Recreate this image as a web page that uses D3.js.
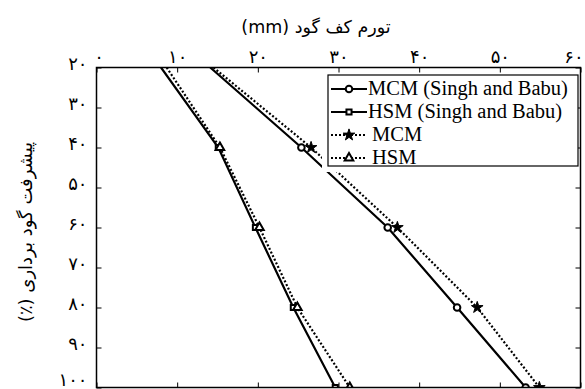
<!DOCTYPE html>
<html>
<head>
<meta charset="utf-8">
<script src="https://cdn.jsdelivr.net/npm/d3@7"></script>
<style>
  body { margin: 0; background: #fff; }
  svg { display: block; }
</style>
</head>
<body>
<svg id="chart" width="585" height="389"></svg>
<script>
// excavation depth (%) on the vertical axis
var depth = [20, 40, 60, 80, 100];

// floor heave (mm)
var mcm_singh = [14.1, 25.4, 36.1, 44.7, 53.2];
var hsm_singh = [8.0, 15.1, 19.7, 24.4, 29.6];
var mcm_this = [14.5, 26.6, 37.3, 47.2, 54.9];
var hsm_this = [8.7, 15.3, 20.2, 24.9, 31.4];

var x_ticks = [0, 10, 20, 30, 40, 50, 60];
var y_ticks = [20, 30, 40, 50, 60, 70, 80, 90, 100];

var legend_labels = ['MCM', 'HSM', 'MCM', 'HSM'];
var legend_notes = ['(Singh and Babu)', '(Singh and Babu)', '', ''];

var title_text = 'تورم کف گود (mm)';
var y_title_text = 'پیشرفت گود برداری (٪)';

var heave_chart = (function () {
  var fa_digits = '۰۱۲۳۴۵۶۷۸۹';
  function toPersian(d) {
    return String(d).replace(/\d/g, function(c) { return fa_digits[+c]; });
  }

  var svg = d3.select('#chart');
  var plot_left = 96.5, plot_right = 580.5, plot_top = 67.5, plot_bottom = 387.5;

  var x = d3.scaleLinear().domain([0, 60]).range([plot_left, plot_right]);
  var y = d3.scaleLinear().domain([20, 100]).range([plot_top, plot_bottom]);

  var series = [
    { values: mcm_singh, symbol: 'circle', dash: null },
    { values: hsm_singh, symbol: 'square', dash: null },
    { values: mcm_this, symbol: 'star', dash: '2,2' },
    { values: hsm_this, symbol: 'triangle', dash: '2,2' }
  ];

  svg.append('defs').append('clipPath').attr('id', 'plotclip')
    .append('rect')
    .attr('x', plot_left).attr('y', plot_top)
    .attr('width', plot_right - plot_left).attr('height', plot_bottom - plot_top);

  // axes, ticks pointing inward
  function styleAxis(g) {
    g.select('.domain').remove();
    g.selectAll('line').attr('stroke', '#000').attr('stroke-width', 1);
    g.selectAll('text').attr('fill', '#000')
      .style('font-family', '"DejaVu Sans", sans-serif')
      .style('font-size', '18px');
  }

  svg.append('g').attr('transform', 'translate(0,' + plot_top + ')')
    .call(d3.axisTop(x).tickValues(x_ticks).tickSize(-5).tickPadding(5).tickFormat(toPersian))
    .call(styleAxis)
    .selectAll('text')
    .attr('x', function(d) { return d === 60 ? -7 : (d === 0 ? 2 : 0); });

  svg.append('g').attr('transform', 'translate(0,' + plot_bottom + ')')
    .call(d3.axisBottom(x).tickValues(x_ticks).tickSize(-5).tickFormat(''))
    .call(styleAxis);

  svg.append('g').attr('transform', 'translate(' + plot_left + ',0)')
    .call(d3.axisLeft(y).tickValues(y_ticks).tickSize(-5).tickPadding(9).tickFormat(toPersian))
    .call(styleAxis)
    .selectAll('text').attr('dy', function(d) { return d === 100 ? '-0.12em' : '0.1em'; });

  svg.append('g').attr('transform', 'translate(' + plot_right + ',0)')
    .call(d3.axisRight(y).tickValues(y_ticks).tickSize(-5).tickFormat(''))
    .call(styleAxis);

  // lines
  var line = d3.line()
    .x(function(d) { return x(d.v); })
    .y(function(d) { return y(d.depth); });

  var plot = svg.append('g').attr('clip-path', 'url(#plotclip)');

  function symbolPath(name) {
    if (name === 'star') return d3.symbol().type(d3.symbolStar).size(42)();
    if (name === 'triangle') return d3.symbol().type(d3.symbolTriangle).size(32)();
    if (name === 'square') return d3.symbol().type(d3.symbolSquare).size(26)();
    return d3.symbol().type(d3.symbolCircle).size(34)();
  }

  function drawMarker(g, name, cx, cy) {
    g.append('path')
      .attr('d', symbolPath(name))
      .attr('transform', 'translate(' + cx + ',' + cy + ')')
      .attr('fill', name === 'star' ? '#000' : '#fff')
      .attr('stroke', '#000')
      .attr('stroke-width', name === 'star' ? 1 : 2);
  }

  series.forEach(function(s) {
    var pts = depth.map(function(dv, i) { return { depth: dv, v: s.values[i] }; });
    plot.append('path')
      .datum(pts)
      .attr('d', line)
      .attr('fill', 'none')
      .attr('stroke', '#000')
      .attr('stroke-width', 2.2)
      .attr('stroke-dasharray', s.dash);
    pts.forEach(function(p, i) {
      if (i === 0) return; // no marker at the top edge
      drawMarker(plot, s.symbol, x(p.v), y(p.depth));
    });
  });

  // frame
  svg.append('rect')
    .attr('x', plot_left).attr('y', plot_top)
    .attr('width', plot_right - plot_left).attr('height', plot_bottom - plot_top)
    .attr('fill', 'none').attr('stroke', '#000').attr('stroke-width', 1.5);

  // legend
  var lg = svg.append('g');
  lg.append('rect')
    .attr('x', 322).attr('y', 75).attr('width', 256).attr('height', 97)
    .attr('fill', '#fff');
  lg.append('rect')
    .attr('x', 328).attr('y', 75).attr('width', 250).attr('height', 91)
    .attr('fill', '#fff').attr('stroke', '#000').attr('stroke-width', 1.2);

  series.forEach(function(s, i) {
    var base = 95 + i * 23;
    var my = base - 6;
    lg.append('line')
      .attr('x1', 331).attr('x2', 367).attr('y1', my).attr('y2', my)
      .attr('stroke', '#000').attr('stroke-width', 2.2)
      .attr('stroke-dasharray', s.dash);
    drawMarker(lg, s.symbol, 349, my);
    var t = lg.append('text')
      .attr('x', legend_notes[i] ? 368 : 372).attr('y', base)
      .style('font-family', '"Liberation Serif", "Times New Roman", serif')
      .style('font-size', '20.5px')
      .attr('fill', '#000');
    t.append('tspan').text(legend_labels[i]);
    if (legend_notes[i]) t.append('tspan').text(' ' + legend_notes[i]);
  });

  // titles
  svg.append('text')
    .attr('x', 316).attr('y', 33)
    .attr('text-anchor', 'middle')
    .attr('direction', 'rtl')
    .style('font-family', '"DejaVu Sans", sans-serif')
    .style('font-size', '17.5px')
    .text(title_text);

  svg.append('text')
    .attr('transform', 'translate(32,232) rotate(-90)')
    .attr('text-anchor', 'middle')
    .attr('direction', 'rtl')
    .style('font-family', '"DejaVu Sans", sans-serif')
    .style('font-size', '18px')
    .text(y_title_text);

  return { x: x, y: y };
}());
</script>
</body>
</html>
